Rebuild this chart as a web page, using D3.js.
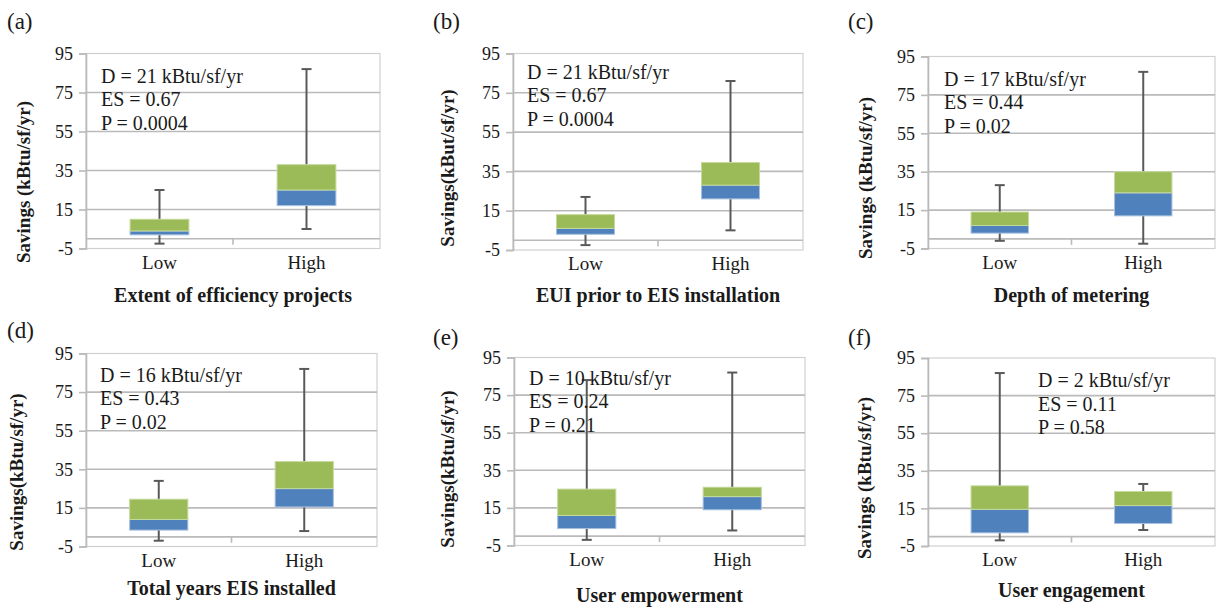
<!DOCTYPE html>
<html>
<head>
<meta charset="utf-8">
<script src="https://cdn.jsdelivr.net/npm/d3@7"></script>
<style>
  body { margin: 0; background: #fff; }
  svg { display: block; }
  text { font-family: "Liberation Serif", "Times New Roman", serif; fill: #1a1a1a; }
</style>
</head>
<body>
<svg id="plot"></svg>
<script>
const width = 1221;
const height = 607;

// ---- data ----
const panelLabels = ['(a)', '(b)', '(c)', '(d)', '(e)', '(f)'];
const xTitles = [
  'Extent of efficiency projects',
  'EUI prior  to EIS installation',
  'Depth of metering',
  'Total years EIS installed',
  'User empowerment',
  'User engagement'
];
const yTitles = [
  'Savings (kBtu/sf/yr)',
  'Savings(kBut/sf/yr)',
  'Savings (kBtu/sf/yr)',
  'Savings(kBtu/sf/yr)',
  'Savings(kBtu/sf/yr)',
  'Savings (kBtu/sf/yr)'
];
const categories = ['Low', 'High'];
const yTicks = [-5, 15, 35, 55, 75, 95];
const yDomain = [-5, 95];

const statD = ['21', '21', '17', '16', '10', '2'];
const statES = ['0.67', '0.67', '0.44', '0.43', '0.24', '0.11'];
const statP = ['0.0004', '0.0004', '0.02', '0.02', '0.21', '0.58'];

// per panel: [Low, High]
const whiskerMin = [[-2.5, 5], [-2.5, 5], [-1, -2.5], [-2, 3], [-2, 3], [-2, 3.5]];
const q1 =         [[2, 17], [3, 21], [3, 12], [3.5, 15.5], [4, 14], [2, 7]];
const median =     [[4, 25], [6, 28], [7, 24], [9, 25], [11, 21], [14.5, 16.5]];
const q3 =         [[10, 38], [13, 39.5], [14, 35], [19.5, 39], [25, 26], [27, 24]];
const whiskerMax = [[25, 87], [22, 81], [28, 87], [29, 87], [83, 87], [87, 28]];

// ---- layout (plot frames in page pixels) ----
const frames = [
  {l: 86,  r: 380,  t: 53.5,  b: 248.5, lab: [7, 29],    yt: [23, 182],  xt: 301.5, ann: [15, 29]},
  {l: 513, r: 803,  t: 53.5,  b: 250,   lab: [433, 29],  yt: [447, 168], xt: 301.5, ann: [14, 25]},
  {l: 928, r: 1215, t: 56.5,  b: 248.5, lab: [848, 29],  yt: [865, 178], xt: 301.5, ann: [16, 29]},
  {l: 86,  r: 377,  t: 353.5, b: 546.5, lab: [7, 338],   yt: [16, 472],  xt: 595,   ann: [14, 28]},
  {l: 514, r: 805,  t: 357.5, b: 545.5, lab: [433, 345], yt: [447, 469], xt: 601.5, ann: [15, 27]},
  {l: 928, r: 1215, t: 358,   b: 546,   lab: [848, 345], yt: [864, 478], xt: 596.5, ann: [110, 29]}
];

const green = '#9bbb59';
const blue = '#4f81bd';
const whiskerColor = '#595959';
const gridColor = '#bababa';

const svg = d3.select('svg#plot')
  .attr('width', width)
  .attr('height', height);

panelLabels.forEach((lab, i) => drawPanel(i));

function drawPanel(i){
  const f = frames[i];
  const g = svg.append('g').attr('class', 'panel');

  const y = d3.scaleLinear().domain(yDomain).range([f.b, f.t]);
  const x = d3.scaleBand().domain(categories).range([f.l, f.r]).padding(0);
  const boxW = x.bandwidth() * 0.4;
  const capW = 10;

  // plot border
  g.append('rect')
    .attr('x', f.l).attr('y', f.t)
    .attr('width', f.r - f.l).attr('height', f.b - f.t)
    .attr('fill', 'none')
    .attr('stroke', '#d0d0d0')
    .attr('stroke-width', 1.2);

  // gridlines
  g.selectAll('.grid')
    .data(yTicks.filter(d => d > -5 && d < 95))
    .enter().append('line')
    .attr('class', 'grid')
    .attr('x1', f.l).attr('x2', f.r)
    .attr('y1', d => y(d)).attr('y2', d => y(d))
    .attr('stroke', gridColor)
    .attr('stroke-width', 1.6);

  // y axis
  const ay = d3.axisLeft(y)
    .tickValues(yTicks)
    .tickFormat(d => String(d))
    .tickSize(7)
    .tickPadding(6);
  const gy = g.append('g')
    .attr('transform', `translate(${f.l},0)`)
    .call(ay);
  gy.select('.domain').attr('stroke', gridColor).attr('stroke-width', 1.6);
  gy.selectAll('.tick line').attr('stroke', gridColor).attr('stroke-width', 1.6);
  gy.selectAll('.tick text')
    .attr('font-size', 18)
    .style('font-family', '"Liberation Serif", serif')
    .attr('fill', '#1a1a1a');

  // category axis at zero
  g.append('line')
    .attr('x1', f.l).attr('x2', f.r)
    .attr('y1', y(0)).attr('y2', y(0))
    .attr('stroke', gridColor)
    .attr('stroke-width', 1.6);
  g.append('line')
    .attr('x1', (f.l + f.r) / 2).attr('x2', (f.l + f.r) / 2)
    .attr('y1', y(0)).attr('y2', y(0) + 6)
    .attr('stroke', gridColor)
    .attr('stroke-width', 1.6);

  // boxes
  const rows = categories.map((c, k) => ({
    cat: c,
    min: whiskerMin[i][k], q1: q1[i][k], med: median[i][k],
    q3: q3[i][k], max: whiskerMax[i][k]
  }));
  const cx = d => x(d.cat) + x.bandwidth() / 2;

  const bx = g.selectAll('.box').data(rows).enter().append('g').attr('class', 'box');
  bx.append('line')
    .attr('x1', cx).attr('x2', cx)
    .attr('y1', d => y(d.min)).attr('y2', d => y(d.max))
    .attr('stroke', whiskerColor).attr('stroke-width', 2);
  ['min', 'max'].forEach(key => {
    bx.append('line')
      .attr('x1', d => cx(d) - capW / 2).attr('x2', d => cx(d) + capW / 2)
      .attr('y1', d => y(d[key])).attr('y2', d => y(d[key]))
      .attr('stroke', whiskerColor).attr('stroke-width', 2);
  });
  bx.append('rect')
    .attr('x', d => cx(d) - boxW / 2).attr('width', boxW)
    .attr('y', d => y(d.med)).attr('height', d => y(d.q1) - y(d.med))
    .attr('fill', blue).attr('stroke', '#a7c0e0').attr('stroke-width', 1);
  bx.append('rect')
    .attr('x', d => cx(d) - boxW / 2).attr('width', boxW)
    .attr('y', d => y(d.q3)).attr('height', d => y(d.med) - y(d.q3))
    .attr('fill', green).attr('stroke', '#c5d99c').attr('stroke-width', 1);

  // category labels
  g.selectAll('.cat')
    .data(categories)
    .enter().append('text')
    .attr('class', 'cat')
    .attr('x', d => x(d) + x.bandwidth() / 2)
    .attr('y', f.b + 20)
    .attr('text-anchor', 'middle')
    .attr('font-size', 19)
    .text(d => d);

  // stats
  const ann = [
    `D = ${statD[i]} kBtu/sf/yr`,
    `ES = ${statES[i]}`,
    `P = ${statP[i]}`
  ];
  g.selectAll('.ann')
    .data(ann)
    .enter().append('text')
    .attr('class', 'ann')
    .attr('x', f.l + f.ann[0])
    .attr('y', (d, k) => f.t + f.ann[1] + k * 23.5)
    .attr('font-size', 20)
    .text(d => d);

  // titles
  g.append('text')
    .attr('x', (f.l + f.r) / 2)
    .attr('y', f.xt)
    .attr('text-anchor', 'middle')
    .attr('font-size', 20)
    .attr('font-weight', 'bold')
    .text(xTitles[i]);

  g.append('text')
    .attr('transform', `translate(${f.yt[0]},${f.yt[1]}) rotate(-90)`)
    .attr('text-anchor', 'middle')
    .attr('dy', '0.35em')
    .attr('font-size', 19)
    .attr('font-weight', 'bold')
    .text(yTitles[i]);

  g.append('text')
    .attr('x', f.lab[0])
    .attr('y', f.lab[1])
    .attr('font-size', 23)
    .text(panelLabels[i]);
}
</script>
</body>
</html>
